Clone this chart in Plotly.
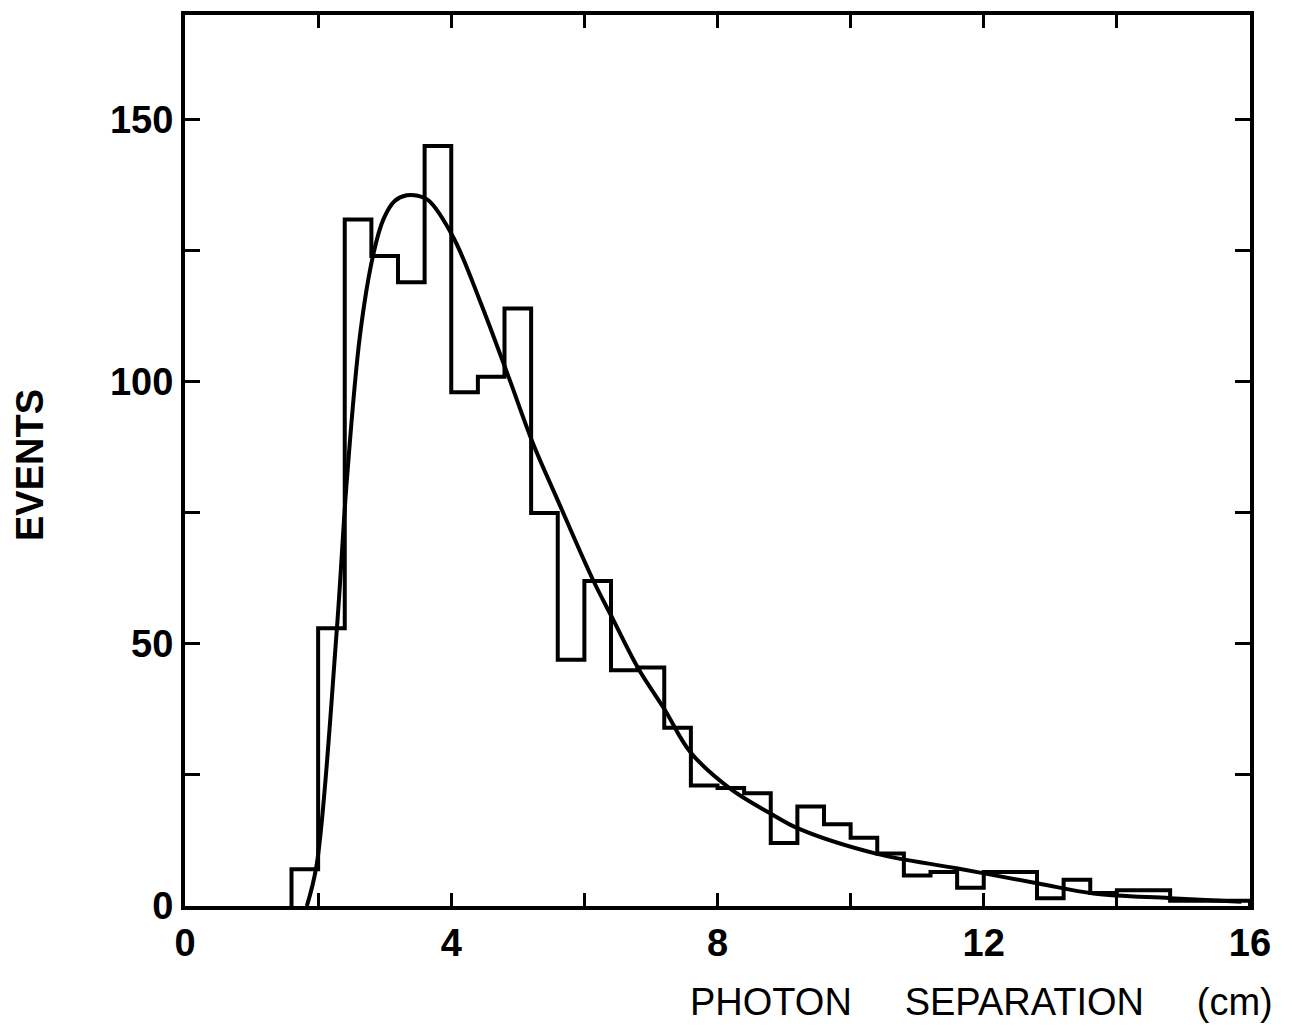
import numpy as np
import plotly.graph_objects as go

# ---- data ----
bin_width = 0.4
bin_left = [1.6, 2.0, 2.4, 2.8, 3.2, 3.6, 4.0, 4.4, 4.8, 5.2, 5.6, 6.0,
            6.4, 6.8, 7.2, 7.6, 8.0, 8.4, 8.8, 9.2, 9.6, 10.0, 10.4, 10.8,
            11.2, 11.6, 12.0, 12.4, 12.8, 13.2, 13.6, 14.0, 14.4, 14.8, 15.2, 15.6]
events = [7, 53, 131, 124, 119, 145, 98, 101, 114, 75, 47, 62,
          45, 45.5, 34, 23, 22.5, 21.5, 12, 19, 15.6, 13, 10, 5.8,
          6.5, 3.5, 6.5, 6.5, 1.5, 5, 2.5, 3, 3, 1, 1, 1]

fit_x = [1.83, 1.98, 2.28, 2.43, 2.63, 2.83, 2.98, 3.15, 3.33, 3.5, 3.66, 4.03,
         4.43, 4.86, 5.23, 5.6, 6.13, 6.41, 6.81, 7.21, 7.59, 8.19, 8.79, 9.21,
         10.38, 11.59, 12.82, 13.65, 14.8, 15.87]
fit_y = [0, 8, 52.6, 81, 109, 124.4, 131, 134.5, 135.6, 135.5, 134.6, 127.6,
         115.5, 101, 88.2, 77.4, 62.2, 55.2, 45.3, 37.4, 29.4, 22.4, 17.7, 14.8,
         10, 7.2, 4.3, 2.4, 1.5, 0.8]

x_tick_vals = [0, 4, 8, 12, 16]
x_minor_vals = [2, 6, 10, 14]
y_tick_vals = [0, 25, 50, 75, 100, 125, 150]
y_tick_text = ["0", "", "50", "", "100", "", "150"]

# ---- build step outline ----
hx = [bin_left[0]] + list(bin_left) + [bin_left[-1] + bin_width, bin_left[-1] + bin_width]
hy = [0] + list(events) + [events[-1], 0]

fig = go.Figure()
fig.add_trace(go.Scatter(x=hx, y=hy, mode="lines", line=dict(shape="hv", color="black", width=4),
                         hoverinfo="skip", showlegend=False))
fig.add_trace(go.Scatter(x=fit_x, y=fit_y, mode="lines",
                         line=dict(shape="spline", smoothing=1.0, color="black", width=4),
                         hoverinfo="skip", showlegend=False))

font_family = "Liberation Sans, Arial, sans-serif"
tick_font = dict(family=font_family, size=38, color="black", weight="bold")

fig.update_layout(
    width=1295, height=1035,
    margin=dict(l=185, r=45, t=15, b=129),
    paper_bgcolor="white", plot_bgcolor="white",
    showlegend=False,
    xaxis=dict(range=[0, 16], tickmode="array", tickvals=x_tick_vals,
               ticktext=[str(v) for v in x_tick_vals],
               ticks="inside", ticklen=13, tickwidth=3, tickcolor="black",
               minor=dict(tickvals=x_minor_vals, ticks="inside", ticklen=13, tickwidth=3, tickcolor="black"),
               showline=True, linewidth=4, linecolor="black", mirror="ticks",
               showgrid=False, zeroline=False, tickfont=tick_font),
    yaxis=dict(range=[0, 170], tickmode="array", tickvals=y_tick_vals, ticktext=y_tick_text,
               ticks="inside", ticklen=15, tickwidth=3, tickcolor="black",
               showline=True, linewidth=4, linecolor="black", mirror="ticks",
               showgrid=False, zeroline=False, tickfont=tick_font),
    annotations=[
        dict(text="EVENTS", xref="paper", yref="paper", x=-0.1455, y=0.495,
             textangle=-90, showarrow=False, xanchor="center", yanchor="middle",
             font=dict(family=font_family, size=38, color="black", weight="bold")),
        dict(text="PHOTON" + "&nbsp;" * 5 + "SEPARATION" + "&nbsp;" * 5 + "(cm)",
             xref="paper", yref="paper",
             x=1.0235, y=-0.1077, showarrow=False, xanchor="right", yanchor="middle",
             font=dict(family=font_family, size=38, color="black")),
    ],
)

fig.write_html("out.html")
